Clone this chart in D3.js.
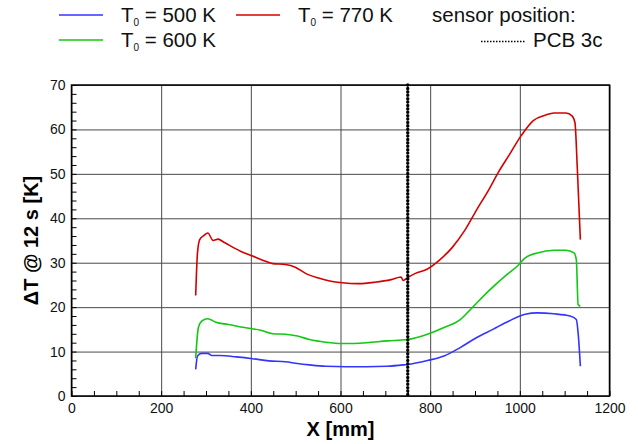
<!DOCTYPE html>
<html>
<head>
<meta charset="utf-8">
<script src="https://cdn.jsdelivr.net/npm/d3@7"></script>
<style>
body { margin: 0; background: #fff; }
svg { font-family: "Liberation Sans", Arial, sans-serif; }
</style>
</head>
<body>
<div id="chart"></div>
<script>
var width = 638;
var height = 444;
var margin = {top: 85, right: 28.5, bottom: 48, left: 71.5};
var w = width - margin.left - margin.right;
var h = height - margin.top - margin.bottom;

// T0 = 500 K
var x500 = [277, 281, 290, 304, 313, 331, 368, 404, 440, 477, 504, 531, 567, 613, 658, 704, 740, 749, 794, 831, 867, 903, 940, 976, 1012, 1039, 1076, 1112, 1126, 1130, 1135];
var y500 = [6.0, 9.0, 9.6, 9.6, 9.1, 9.1, 8.8, 8.4, 7.9, 7.7, 7.3, 7.0, 6.7, 6.6, 6.6, 6.7, 7.0, 7.1, 8.0, 9.0, 10.9, 13.1, 15.0, 16.9, 18.4, 18.7, 18.5, 18.0, 17.2, 14.2, 6.7];
// T0 = 600 K
var x600 = [277, 283, 291, 304, 322, 350, 386, 422, 449, 477, 504, 531, 567, 604, 658, 704, 749, 794, 831, 867, 894, 930, 967, 994, 1012, 1039, 1076, 1103, 1121, 1126, 1130, 1135];
var y600 = [8.5, 15.4, 16.9, 17.4, 16.6, 16.1, 15.4, 14.8, 14.0, 13.9, 13.5, 12.7, 12.1, 11.8, 12.0, 12.4, 12.7, 13.9, 15.4, 17.2, 19.9, 23.6, 27.0, 29.2, 31.1, 32.2, 32.8, 32.8, 32.2, 30.7, 20.6, 20.2];
// T0 = 770 K
var x770 = [277, 281, 286, 295, 304, 316, 327, 340, 377, 404, 431, 449, 477, 499, 522, 549, 576, 604, 640, 676, 713, 735, 740, 749, 767, 794, 822, 849, 876, 903, 930, 953, 976, 1003, 1030, 1057, 1076, 1103, 1117, 1123, 1128, 1135];
var y770 = [22.6, 32.2, 35.2, 36.1, 36.7, 35.0, 35.3, 34.6, 32.6, 31.5, 30.4, 29.8, 29.6, 29.0, 27.6, 26.6, 25.9, 25.5, 25.3, 25.6, 26.2, 26.8, 26.0, 26.6, 27.6, 28.6, 30.7, 33.4, 37.1, 41.8, 46.3, 50.5, 54.2, 58.6, 62.0, 63.2, 63.7, 63.7, 63.0, 61.5, 51.7, 35.2];

var sensorX = 750;
var xTicks = [0, 200, 400, 600, 800, 1000, 1200];
var yTicks = [0, 10, 20, 30, 40, 50, 60, 70];

var series = [
  {name: "500", xs: x500, ys: y500, color: "#3434ff"},
  {name: "600", xs: x600, ys: y600, color: "#12c812"},
  {name: "770", xs: x770, ys: y770, color: "#d40000"}
];

var svg = d3.select("#chart").append("svg")
  .attr("width", width)
  .attr("height", height);

var g = svg.append("g")
  .attr("transform", "translate(" + margin.left + "," + margin.top + ")");

var x = d3.scaleLinear().domain([0, 1200]).range([0, w]);
var y = d3.scaleLinear().domain([0, 70]).range([h, 0]);

// grid
g.append("g")
  .attr("transform", "translate(0," + h + ")")
  .call(d3.axisBottom(x).tickValues(xTicks).tickSize(-h).tickFormat(""))
  .call(function(a) { a.select(".domain").remove(); a.selectAll("line").attr("stroke", "#4a4a4a"); });
g.append("g")
  .call(d3.axisLeft(y).tickValues(yTicks).tickSize(-w).tickFormat(""))
  .call(function(a) { a.select(".domain").remove(); a.selectAll("line").attr("stroke", "#4a4a4a"); });

// minor ticks
g.append("g")
  .attr("transform", "translate(0," + h + ")")
  .call(d3.axisBottom(x).tickValues(d3.range(0, 1201, 50)).tickSize(-5).tickFormat(""))
  .call(function(a) { a.select(".domain").remove(); a.selectAll("line").attr("stroke", "#000"); });
g.append("g")
  .call(d3.axisLeft(y).tickValues(d3.range(0, 71, 2)).tickSize(-5).tickFormat(""))
  .call(function(a) { a.select(".domain").remove(); a.selectAll("line").attr("stroke", "#000"); });

// tick labels
g.append("g")
  .attr("transform", "translate(0," + h + ")")
  .call(d3.axisBottom(x).tickValues(xTicks).tickSize(0).tickPadding(7).tickFormat(d3.format("d")))
  .call(function(a) {
    a.select(".domain").remove();
    a.selectAll("text").attr("font-size", 14).attr("fill", "#111").attr("font-family", "Liberation Sans, Arial, sans-serif");
  });
g.append("g")
  .call(d3.axisLeft(y).tickValues(yTicks).tickSize(0).tickPadding(6).tickFormat(d3.format("d")))
  .call(function(a) {
    a.select(".domain").remove();
    a.selectAll("text").attr("font-size", 14).attr("fill", "#111").attr("font-family", "Liberation Sans, Arial, sans-serif");
  });

// curves
var line = d3.line()
  .x(function(d) { return x(d[0]); })
  .y(function(d) { return y(d[1]); })
  .curve(d3.curveMonotoneX);

series.forEach(function(s) {
  g.append("path")
    .datum(d3.zip(s.xs, s.ys))
    .attr("fill", "none")
    .attr("stroke", s.color)
    .attr("stroke-width", 1.6)
    .attr("d", line);
});

// sensor position
g.append("line")
  .attr("x1", x(sensorX)).attr("x2", x(sensorX))
  .attr("y1", 0).attr("y2", h)
  .attr("stroke", "#000")
  .attr("stroke-width", 3.4)
  .attr("stroke-linecap", "round")
  .attr("stroke-dasharray", "0.1,3.3");

// frame
g.append("rect")
  .attr("width", w).attr("height", h)
  .attr("fill", "none").attr("stroke", "#000").attr("stroke-width", 1.5);

// axis titles
svg.append("text")
  .attr("x", margin.left + w / 2)
  .attr("y", 436)
  .attr("text-anchor", "middle")
  .attr("font-size", 20).attr("font-weight", "bold")
  .text("X [mm]");
svg.append("text")
  .attr("transform", "translate(38," + (margin.top + h / 2) + ") rotate(-90)")
  .attr("text-anchor", "middle")
  .attr("font-size", 20).attr("font-weight", "bold")
  .text("ΔT @ 12 s [K]");

// legend
var legend = svg.append("g").attr("font-size", 20.5).attr("fill", "#111");
var legItems = [
  {s: series[0], lx: 59, ly: 15, label: "500 K"},
  {s: series[2], lx: 236, ly: 15, label: "770 K"},
  {s: series[1], lx: 59, ly: 40, label: "600 K"}
];
legItems.forEach(function(d) {
  legend.append("line")
    .attr("x1", d.lx).attr("x2", d.lx + 44)
    .attr("y1", d.ly).attr("y2", d.ly)
    .attr("stroke", d.s.color).attr("stroke-width", 1.5);
  var t = legend.append("text").attr("x", d.lx + 62).attr("y", d.ly + 7);
  t.append("tspan").text("T");
  t.append("tspan").attr("font-size", 10).attr("dy", 4).text("0");
  t.append("tspan").attr("dy", -4).text(" = " + d.label);
});
legend.append("text").attr("x", 432).attr("y", 22).text("sensor position:");
legend.append("line")
  .attr("x1", 481).attr("x2", 525)
  .attr("y1", 41.5).attr("y2", 41.5)
  .attr("stroke", "#000").attr("stroke-width", 1.5)
  .attr("stroke-dasharray", "1.5,1.5");
legend.append("text").attr("x", 533).attr("y", 47).text("PCB 3c");
</script>
</body>
</html>
